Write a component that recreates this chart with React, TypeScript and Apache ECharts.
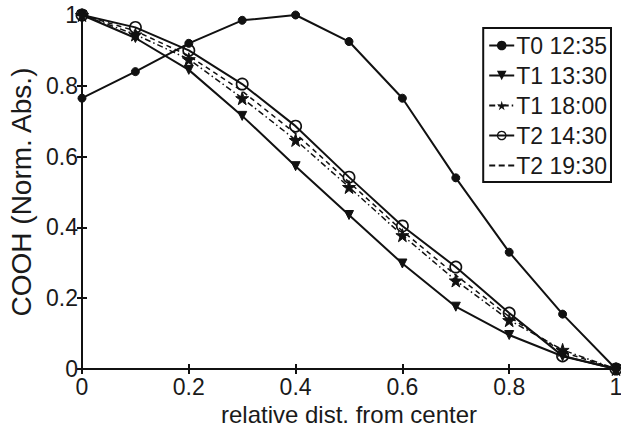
import React, { useEffect, useRef } from "react";
import * as echarts from "echarts";

const xValues = [0, 0.1, 0.2, 0.3, 0.4, 0.5, 0.6, 0.7, 0.8, 0.9, 1.0];
const seriesNames = ["T0 12:35", "T1 13:30", "T1 18:00", "T2 14:30", "T2 19:30"];
const t0_1235 = [0.765, 0.84, 0.92, 0.985, 1.0, 0.925, 0.765, 0.54, 0.33, 0.155, 0.0];
const t1_1330 = [1.0, 0.935, 0.845, 0.715, 0.573, 0.435, 0.298, 0.176, 0.096, 0.036, 0.0];
const t1_1800 = [1.0, 0.945, 0.875, 0.765, 0.647, 0.514, 0.378, 0.25, 0.138, 0.054, 0.0];
const t2_1430 = [1.0, 0.965, 0.9, 0.805, 0.686, 0.542, 0.404, 0.288, 0.158, 0.037, 0.0];
const t2_1930 = [1.0, 0.955, 0.885, 0.785, 0.665, 0.528, 0.39, 0.265, 0.148, 0.048, 0.0];

const STAR = "path://M50,0 L61,35 L98,35 L68,57 L79,91 L50,70 L21,91 L32,57 L2,35 L39,35 Z";
const RING =
  "path://M50,0 A50,50 0 1,1 49.99,0 Z M50,13 A37,37 0 1,0 50.01,13 Z";
const DASH_ICON =
  "path://M0,0 L0.01,0 L0.01,0.01 Z M25,12 L24.99,12 L24.99,11.99 Z M0,5.1 h6 v1.8 h-6 Z M9.5,5.1 h6 v1.8 h-6 Z M19,5.1 h6 v1.8 h-6 Z";
const INK = "#111";
const TXT = "#1a1a1a";
const FONT = "Liberation Sans, Arial, sans-serif";

const fmt = (v: number) => (v === 0 ? "0" : v === 1 ? "1" : String(Math.round(v * 10) / 10));

export default function App() {
  const ref = useRef<HTMLDivElement>(null);
  useEffect(() => {
    if (!ref.current) return;
    const chart = echarts.init(ref.current, undefined, { renderer: "svg" });
    const pairs = (ys: number[]) => xValues.map((x, i) => [x, ys[i]]);
    const base = {
      type: "line",
      clip: false,
      z: 3,
      color: INK,
      itemStyle: { color: INK, borderColor: INK },
    };
    const tickCommon = {
      axisLine: { show: true, lineStyle: { color: INK, width: 2 } },
      axisTick: { show: true, inside: true, length: 5, lineStyle: { color: INK, width: 2 } },
      splitLine: { show: false },
      min: 0,
      max: 1,
      interval: 0.2,
    };
    chart.setOption({
      animation: false,
      backgroundColor: "#fff",
      textStyle: { fontFamily: FONT },
      grid: {
        left: 82,
        right: 5,
        top: 15,
        bottom: 58,
        containLabel: false,
        outerBoundsMode: "none",
      },
      legend: {
        orient: "vertical",
        right: 10,
        top: 28,
        data: [
          { name: seriesNames[0] },
          { name: seriesNames[1] },
          { name: seriesNames[2] },
          { name: seriesNames[3] },
          { name: seriesNames[4], icon: DASH_ICON },
        ],
        borderColor: INK,
        borderWidth: 2,
        padding: [6, 4, 5, 5],
        itemGap: 7,
        itemWidth: 25,
        itemHeight: 12,
        textStyle: { fontSize: 23, color: TXT, fontFamily: FONT, padding: [0, 0, 0, -3] },
        backgroundColor: "#fff",
      },
      xAxis: [
        {
          type: "value",
          position: "bottom",
          ...tickCommon,
          axisLabel: { fontSize: 23, color: TXT, margin: 6, formatter: fmt, fontFamily: FONT },
          name: "relative dist. from center",
          nameLocation: "middle",
          nameGap: 27,
          nameTextStyle: { fontSize: 24, color: TXT, fontFamily: FONT, verticalAlign: "top", lineHeight: 24 },
        },
        {
          type: "value",
          position: "top",
          ...tickCommon,
          axisLabel: { show: false },
        },
      ],
      yAxis: [
        {
          type: "value",
          position: "left",
          ...tickCommon,
          axisLabel: { fontSize: 23, color: TXT, margin: 4, formatter: fmt, fontFamily: FONT },
          name: "COOH (Norm. Abs.)",
          nameLocation: "middle",
          nameGap: 44,
          nameTextStyle: { fontSize: 28, color: TXT, fontFamily: FONT },
        },
        {
          type: "value",
          position: "right",
          ...tickCommon,
          axisLabel: { show: false },
        },
      ],
      series: [
        {
          ...base,
          name: seriesNames[0],
          data: pairs(t0_1235),
          symbol: "circle",
          symbolSize: 8,
          lineStyle: { color: INK, width: 2 },
        },
        {
          ...base,
          name: seriesNames[1],
          data: pairs(t1_1330),
          symbol: "triangle",
          symbolRotate: 180,
          symbolSize: 9,
          lineStyle: { color: INK, width: 2 },
        },
        {
          ...base,
          name: seriesNames[2],
          data: pairs(t1_1800),
          symbol: STAR,
          symbolSize: 13,
          lineStyle: { color: INK, width: 1.5, type: [6, 3, 1.5, 3] },
        },
        {
          ...base,
          name: seriesNames[3],
          data: pairs(t2_1430),
          symbol: RING,
          symbolSize: 13,
          itemStyle: { color: INK },
          lineStyle: { color: INK, width: 2 },
        },
        {
          ...base,
          name: seriesNames[4],
          data: pairs(t2_1930),
          symbol: "none",
          itemStyle: { color: INK },
          lineStyle: { color: INK, width: 1.5, type: [5, 4] },
        },
      ],
    });
    return () => chart.dispose();
  }, []);
  return <div ref={ref} style={{ width: 621, height: 427, position: "absolute", left: 0, top: 0 }} />;
}
